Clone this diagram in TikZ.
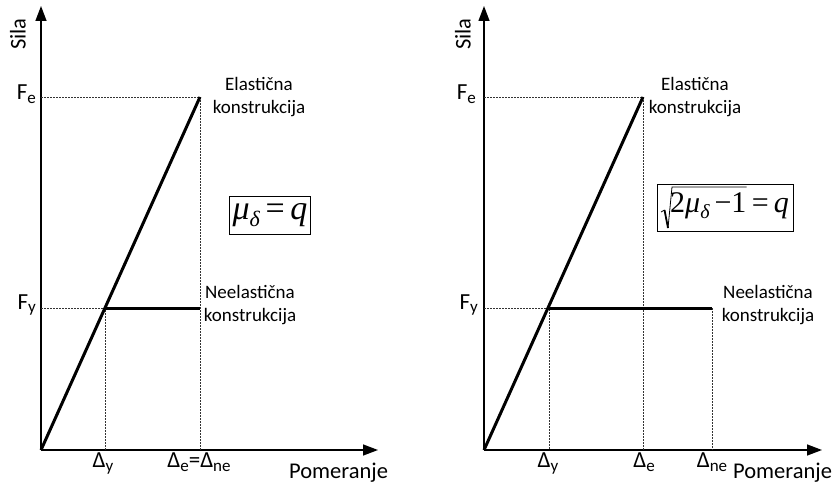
\documentclass[tikz,border=0pt]{standalone}
\usepackage{fontspec}
\setmainfont{Carlito}
\newfontfamily\tms{Liberation Serif}
\usetikzlibrary{arrows.meta,fit}
\newcommand{\sbs}[1]{\raisebox{-3.5pt}{\fontsize{17}{17}\selectfont #1}}
\begin{document}
\begin{tikzpicture}[x=1pt,y=-1pt,
  axis/.style={line width=1.4pt,-{Triangle[length=15pt,width=11pt]}},
  curve/.style={line width=3pt},
  guide/.style={line width=0.8pt,black!80,dash pattern=on 2pt off 1pt},
  lab/.style={font=\fontsize{19}{23}\selectfont,inner sep=0pt,align=center},
  axlab/.style={font=\fontsize{22.5}{24}\selectfont,inner sep=0pt},
  tick/.style={font=\fontsize{23}{25}\selectfont,inner sep=0pt},
  formula/.style={draw,line width=0.8pt,inner xsep=3pt,inner ysep=7pt,font=\fontsize{34}{36}\tms},
  ftext/.style={inner sep=0pt,font=\fontsize{30}{32}\tms},
  fbox/.style={draw,line width=0.8pt,inner sep=0pt}]
\useasboundingbox (0,0) rectangle (835,484);
% ---------- left panel ----------
\coordinate (O1) at (41,450);
\coordinate (Y1) at (41,6);
\coordinate (X1) at (378,450);
\coordinate (E1) at (200,97);
\coordinate (P1) at (105,308);
\coordinate (Q1) at (200,308);
\coordinate (FeA) at (41,97);
\coordinate (FyA) at (41,308);
\coordinate (dyA) at (105,450);
\coordinate (deA) at (200,450);
\draw[axis] (O1) -- (Y1);
\draw[axis] (O1) -- (X1);
\draw[guide] (FeA) -- (E1) -- (deA);
\draw[guide] (FyA) -- (P1) -- (dyA);
\draw[curve] (O1) -- (E1);
\draw[curve] (P1) -- (Q1);
\node[axlab,rotate=90] (sila1) at (18,34) {Sila};
\node[tick,anchor=east] (fe1) at (36,94) {F\sbs{e}};
\node[tick,anchor=east] (fy1) at (36,305) {F\sbs{y}};
\node[tick,anchor=north] (dy1) at (103,453) {Δ\sbs{y}};
\node[tick,anchor=north] (de1) at (199,453) {Δ\sbs{e}=Δ\sbs{ne}};
\node[axlab,anchor=west] (pom1) at (289,473) {Pomeranje};
\node[lab] (el1) at (259,97) {Elastična\\konstrukcija};
\node[lab] (ne1) at (250,305) {Neelastična\\konstrukcija};
\node[formula] (f1) at (270,215.5) {{\itshape μ}\raisebox{-7pt}{\fontsize{22}{22}\tms\itshape δ}\,=\,{\itshape q}};
% ---------- right panel ----------
\coordinate (O2) at (484,450);
\coordinate (Y2) at (484,6);
\coordinate (X2) at (822,450);
\coordinate (E2) at (643,97);
\coordinate (P2) at (549,308);
\coordinate (Q2) at (712,308);
\coordinate (FeB) at (484,97);
\coordinate (FyB) at (484,308);
\coordinate (dyB) at (549,450);
\coordinate (deB) at (643,450);
\coordinate (dnB) at (712,450);
\draw[axis] (O2) -- (Y2);
\draw[axis] (O2) -- (X2);
\draw[guide] (FeB) -- (E2) -- (deB);
\draw[guide] (FyB) -- (P2) -- (dyB);
\draw[guide] (Q2) -- (dnB);
\draw[curve] (O2) -- (E2);
\draw[curve] (P2) -- (Q2);
\node[axlab,rotate=90] (sila2) at (463,34) {Sila};
\node[tick,anchor=east] (fe2) at (476,94) {F\sbs{e}};
\node[tick,anchor=east] (fy2) at (478,305) {F\sbs{y}};
\node[tick,anchor=north] (dy2) at (548,453) {Δ\sbs{y}};
\node[tick,anchor=north] (de2) at (644,453) {Δ\sbs{e}};
\node[tick,anchor=north] (dn2) at (712,453) {Δ\sbs{ne}};
\node[axlab,anchor=west] (pom2) at (733,473) {Pomeranje};
\node[lab] (el2) at (695,97) {Elastična\\konstrukcija};
\node[lab] (ne2) at (768,305) {Neelastična\\konstrukcija};
% formula with drawn radical
\node[ftext,anchor=base west] (rad) at (670,212) {2{\itshape μ}\raisebox{-6pt}{\fontsize{20}{20}\tms\itshape δ}\,−1};
\node[ftext,anchor=base west] (eq) at (rad.base east) {\,=\,{\itshape q}};
\coordinate (rl) at (661,212);
\coordinate (rb) at (668,228);
\coordinate (rt) at (672,187);
\draw[line width=0.8pt] (rl) -- (664.5,210);
\draw[line width=1.8pt] (664.5,210) -- (rb);
\draw[line width=0.8pt] (rb) -- (rt) -- (rt -| rad.east);
\node[fbox,fit=(rl)(rb)(rt)(rad)(eq),inner xsep=4pt,inner ysep=3pt] (f2) {};
\end{tikzpicture}
\end{document}
